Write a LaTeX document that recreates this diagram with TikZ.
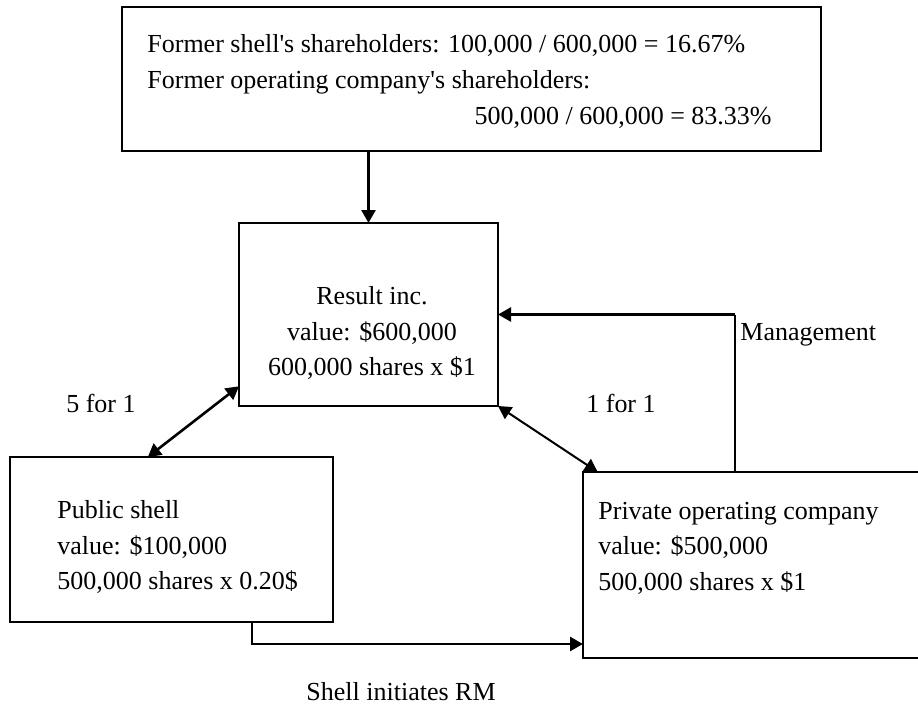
\documentclass[tikz,border=0pt]{standalone}
\usepackage{fontspec}
\setmainfont{Liberation Serif}
\usetikzlibrary{arrows.meta}

\begin{document}
\begin{tikzpicture}[
      x=0.5pt, y=-0.5pt,
      every box/.style ={draw,line width=1.2pt,inner sep=0pt,outer sep=0pt},
      box text/.style ={inner sep=0pt,align=left,font=\fontsize{13}{17.75}\selectfont},
      link/.style ={line width=#1},
      link/.default=1.3pt,
      >={Triangle[length=6.5pt,width=7pt]}]
    \useasboundingbox (0,0) rectangle (918,709);
    \node[every box,minimum width=349.5pt,minimum height=72pt] (holders) at (471.5,79) {};
    \node[every box,minimum width=129.5pt,minimum height=91.5pt] (result) at (368.5,314.5) {};
    \node[every box,minimum width=161.5pt,minimum height=82.5pt] (shell) at (171.5,539.5) {};
    \node[every box,minimum width=169.5pt,minimum height=93pt] (private) at (752.5,565) {};
    \node[box text,anchor=west] (holders text) at (147,64.5) {Former shell\textquotesingle s shareholders: 100,000 / 600,000 = 16.67\%\\Former operating company\textquotesingle s shareholders:};
    \node[box text,anchor=east] (holders pct) at (772,118) {500,000 / 600,000 = 83.33\%};
    \node[box text,align=center] (result text) at (372,333) {Result inc.\\value: \$600,000\\600,000 shares x \$1};
    \node[box text,anchor=west] (shell text) at (57,547) {Public shell\\value: \$100,000\\500,000 shares x 0.20\$};
    \node[box text,anchor=west] (private text) at (598,548) {Private operating company\\value: \$500,000\\500,000 shares x \$1};
    \node[box text] (five) at (101,403) {5 for 1};
    \node[box text] (one) at (621,403) {1 for 1};
    \node[box text,anchor=west] (mgmt) at (740,335) {Management};
    \node[box text] (initiates) at (401,692) {Shell initiates RM};
    \draw[link,->] (holders.south -| result.north) -- (result.north);
    \draw[link,<->] (shell.106) -- (result.209);
    \draw[link=1pt,<->] (result.south east) -- (private.149);
    \draw[link=1pt] ([xshift=-8.75pt]private.north) -- ([xshift=-8.75pt]private.north |- result.east);
    \draw[link,->] ([xshift=-8.75pt]private.north |- result.east) -- (result.east);
    \draw[link,->] ([xshift=40.25pt]shell.south) |- ([yshift=-39.5pt]private.west);
    \end{tikzpicture}
\end{document}
